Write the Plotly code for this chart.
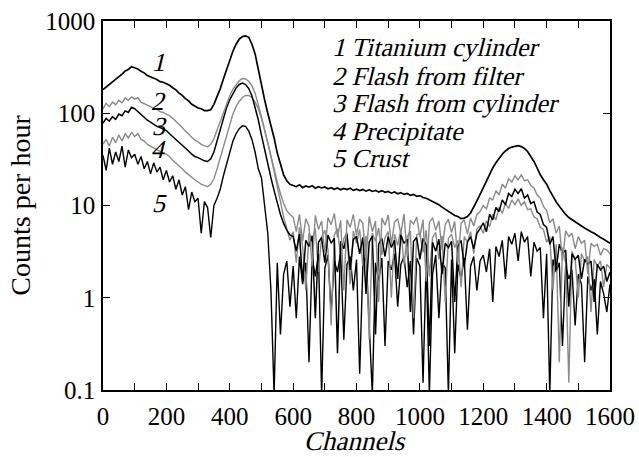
import plotly.graph_objects as go

channels = list(range(0, 1601, 10))

titanium_cylinder = [
    180, 192, 203, 218, 233, 252, 265, 287, 298, 320,
    310, 302, 286, 274, 256, 248, 236, 232, 220, 217,
    209, 201, 189, 179, 165, 156, 144, 136, 125, 120,
    114, 112, 107, 107, 109, 125, 150, 185, 235, 300,
    380, 470, 560, 635, 678, 690, 665, 560, 440, 295,
    200, 140, 100, 74, 54, 37, 27.5, 21.5, 18.5, 17,
    16.5, 16, 16.8, 15.6, 16.3, 15.8, 16.4, 15.4, 16.0, 15.5,
    15.9, 15.2, 15.6, 15.0, 15.5, 14.8, 15.3, 14.9, 15.4, 14.6,
    15.0, 14.5, 14.9, 14.3, 14.8, 14.2, 14.6, 14.0, 14.5, 13.9,
    14.2, 13.6, 14.0, 13.4, 13.8, 13.2, 13.5, 12.9, 13.2, 12.6,
    12.8, 12.2, 12.0, 11.5, 11.2, 10.6, 10.2, 9.6, 9.1, 8.6,
    8.2, 7.8, 7.6, 7.2, 7.3, 7.6, 8.3, 9.5, 11.2, 13.2,
    15.6, 18.5, 22, 25.5, 29, 32.5, 36, 39, 41.5, 43,
    44, 44.5, 43.5, 41.5, 38.5, 34.5, 30, 25.5, 21.5, 19,
    17, 14.5, 12.5, 11, 9.8, 8.8, 8.0, 7.4, 7.0, 6.6,
    6.2, 6.0, 5.7, 5.5, 5.2, 5.0, 4.7, 4.5, 4.3, 4.1,
    3.9,
]

flash_from_filter = [
    112, 128, 118, 132, 124, 138, 130, 146, 138, 150,
    142, 148, 132, 128, 122, 118, 112, 110, 104, 102,
    98, 94, 88, 82, 76, 70, 64, 60, 55, 51,
    49, 46, 44, 43, 46, 53, 66, 82, 102, 128,
    155, 182, 205, 225, 238, 236, 222, 198, 165, 125,
    92, 66, 47, 34, 25, 18, 13.5, 10.5, 8.8, 8.0,
    7.5, 5.2, 8.0, 4.1, 7.2, 6.0, 2.2, 7.8, 5.5, 6.8,
    3.0, 7.4, 6.2, 8.2, 4.5, 6.9, 1.2, 7.0, 5.8, 8.0,
    4.8, 7.1, 6.4, 2.5, 7.6, 5.2, 6.8, 0.9, 7.3, 6.1,
    7.9, 3.8, 6.6, 7.2, 5.0, 8.1, 2.8, 6.9, 6.3, 7.5,
    4.6, 7.0, 1.5, 6.5, 7.4, 5.4, 6.8, 3.3, 6.2, 7.1,
    5.1, 6.7, 2.4, 6.4, 7.0, 4.9, 7.3, 6.0, 8.0, 8.6,
    10, 9.2, 12, 11.5, 14.5, 13, 17, 15.5, 19.5, 18,
    21, 19, 21.5, 18.5, 19, 16.5, 15.5, 13, 12, 9.8,
    8.8, 6.5, 7.2, 5.0, 6.0, 2.5, 5.3, 4.6, 5.0, 3.4,
    4.6, 3.9, 4.2, 1.8, 3.9, 3.6, 3.8, 2.9, 3.4, 3.3,
    3.0,
]

flash_from_cylinder = [
    78, 88, 82, 92, 86, 98, 94, 106, 102, 116,
    112, 104, 96, 90, 84, 80, 76, 72, 70, 67,
    65, 60, 56, 52, 48, 45, 42, 39, 36, 34,
    33, 31.5, 30.5, 30, 32, 38, 50, 66, 88, 115,
    140, 165, 188, 205, 212, 205, 185, 155, 118, 85,
    58, 40, 28, 20, 14.5, 10.5, 8.0, 6.4, 5.4, 4.8,
    4.6, 3.2, 4.9, 1.5, 4.2, 3.6, 4.7, 0.6, 4.0, 4.5,
    2.4, 4.8, 3.9, 4.4, 0.25, 4.1, 3.4, 4.9, 2.0, 4.3,
    4.6, 3.0, 4.5, 1.1, 4.0, 4.7, 0.4, 3.8, 4.4, 2.8,
    4.6, 3.5, 4.2, 1.6, 4.8, 3.9, 4.3, 0.7, 4.1, 4.5,
    2.6, 4.4, 3.7, 0.3, 4.0, 3.2, 4.3, 1.8, 3.9, 3.5,
    4.1, 0.9, 3.6, 4.2, 2.2, 4.0, 4.6, 3.4, 5.0, 5.6,
    6.5, 5.2, 8.0, 7.0, 9.5, 8.6, 11.5, 10.2, 13.5, 12.5,
    15, 13.5, 15.2, 12.0, 13.0, 10.5, 11.0, 8.5, 8.0, 6.2,
    5.8, 3.8, 4.6, 2.0, 3.8, 3.0, 3.3, 0.8, 3.0, 2.6,
    2.9, 1.6, 2.6, 2.3, 2.5, 0.9, 2.3, 2.0, 2.2, 1.5,
    1.9,
]

precipitate = [
    46, 52, 44, 55, 48, 58, 50, 60, 54, 62,
    56, 60, 52, 50, 46, 44, 42, 41, 39, 37,
    36, 34, 31, 29, 27, 25, 23, 21.5, 20, 19,
    18, 17, 16.5, 16, 17, 19.5, 25, 33, 45, 60,
    78, 98, 118, 135, 148, 156, 156, 148, 132, 112,
    88, 66, 48, 34, 24, 16, 11, 7.5, 5.5, 4.2,
    5.2, 2.4, 5.8, 3.6, 1.2, 5.0, 4.2, 5.6, 1.9, 4.6,
    5.4, 3.3, 0.5, 4.8, 5.6, 2.7, 4.4, 5.1, 1.4, 5.3,
    3.9, 5.5, 2.2, 4.7, 0.35, 5.0, 4.1, 5.7, 2.9, 4.5,
    5.2, 1.0, 4.9, 3.7, 5.5, 2.3, 4.6, 5.3, 0.6, 4.8,
    5.0, 3.1, 5.4, 1.7, 4.5, 5.1, 2.6, 4.7, 0.9, 4.4,
    4.9, 3.5, 4.2, 1.3, 4.6, 4.0, 5.2, 3.0, 5.6, 6.0,
    5.0, 6.8, 5.9, 8.0, 7.0, 9.6, 8.2, 10.5, 9.3, 11.5,
    10.2, 11.8, 10.0, 11.0, 9.0, 9.2, 7.5, 7.2, 5.8, 5.5,
    4.0, 4.6, 1.2, 3.8, 0.2, 3.5, 2.4, 0.12, 3.2, 2.6,
    1.0, 3.0, 2.5, 2.8, 0.7, 2.6, 2.2, 2.5, 1.3, 2.3,
    2.1,
]

crust = [
    35, 24, 42, 28, 38, 30, 44, 26, 40, 33,
    36, 28, 34, 25, 30, 22, 29, 23, 26, 19,
    24, 18, 21, 15, 19, 13, 16, 9, 14, 11,
    12, 5, 11, 9.5, 4.5, 10, 12, 15, 21, 28,
    38, 50, 60, 68, 73, 72, 64, 52, 38, 25,
    20, 10, 5, 1.2, 0.09, 2.4, 0.4, 1.8, 2.5, 0.8,
    2.2, 0.6, 2.8, 1.4, 2.4, 0.2, 2.7, 1.7, 3.0, 0.09,
    2.1, 2.9, 0.7, 2.5, 1.9, 3.1, 0.35, 2.3, 2.8, 1.2,
    2.6, 0.15, 2.2, 2.9, 0.5, 0.09, 2.4, 1.5, 2.7, 0.3,
    2.5, 2.0, 3.0, 0.8, 2.3, 2.8, 1.3, 2.5, 0.4, 2.7,
    2.2, 0.12, 2.6, 0.09, 1.8, 2.9, 0.6, 2.4, 2.1, 0.09,
    2.6, 0.25, 2.3, 1.6, 2.7, 0.45, 2.2, 2.8, 1.2, 2.5,
    2.9, 1.9, 3.4, 0.9, 3.6, 2.8, 4.2, 1.6, 4.6, 3.8,
    5.0, 2.5, 5.2, 4.0, 4.6, 1.7, 4.0, 3.2, 3.5, 0.6,
    3.0, 0.09, 2.6, 1.9, 2.4, 0.3, 2.2, 1.6, 2.0, 0.5,
    1.8, 1.4, 0.2, 1.7, 1.2, 1.6, 0.4, 1.5, 1.1, 0.7,
    1.4,
]

series_names = ["1 Titanium cylinder", "2 Flash from filter", "3 Flash from cylinder",
                "4 Precipitate", "5 Crust"]
curve_numbers = ["1", "2", "3", "4", "5"]
x_title = "Channels"
y_title = "Counts per hour"

x_tick_values = list(range(0, 1601, 100))
x_tick_labels = [str(v) if v % 200 == 0 else "" for v in x_tick_values]
y_tick_values = [0.1, 1, 10, 100, 1000]
y_tick_labels = ["0.1", "1", "10", "100", "1000"]

BLACK = "#000000"
GRAY = "#8a8a8a"
FONT = "Liberation Serif"

fig = go.Figure()
draw = [
    (crust, BLACK, 1.4),
    (precipitate, GRAY, 1.4),
    (flash_from_cylinder, BLACK, 1.5),
    (flash_from_filter, GRAY, 1.4),
    (titanium_cylinder, BLACK, 1.7),
]
for vals, col, wid in draw:
    assert len(vals) == len(channels)
    fig.add_trace(go.Scatter(x=channels, y=vals, mode="lines",
                             line=dict(color=col, width=wid), showlegend=False,
                             hoverinfo="skip"))

L, R, T, B = 103, 29, 21, 67
W, H = 639, 457
pw, ph = W - L - R, H - T - B

def px(xp):
    return (xp - L) / pw

def py(yp):
    return 1 - (yp - T) / ph

legend_centers = [48, 76, 103, 131, 158]
for name, yc in zip(series_names, legend_centers):
    fig.add_annotation(x=px(330), y=py(yc), xref="paper", yref="paper",
                       text=name, showarrow=False, xanchor="left", yanchor="middle",
                       font=dict(family=FONT, size=26, color=BLACK))

number_pos = [(158, 63), (157, 101), (158, 126), (157, 149), (158, 204)]
for num, (xp, yp) in zip(curve_numbers, number_pos):
    fig.add_annotation(x=px(xp), y=py(yp), xref="paper", yref="paper",
                       text=num, showarrow=False, xanchor="center", yanchor="middle",
                       font=dict(family=FONT, size=26, color=BLACK))

fig.add_annotation(x=px(354), y=py(441), xref="paper", yref="paper",
                   text=x_title, showarrow=False, xanchor="center", yanchor="middle",
                   font=dict(family=FONT, size=27, color=BLACK))

axis_common = dict(showline=True, linecolor=BLACK, linewidth=1.5, mirror="ticks",
                   ticks="inside", ticklen=7, tickwidth=1.3, tickcolor=BLACK,
                   showgrid=False, zeroline=False, automargin=False,
                   tickfont=dict(family=FONT, size=25, color=BLACK))

fig.update_xaxes(range=[0, 1600], tickmode="array", tickvals=x_tick_values,
                 ticktext=x_tick_labels, ticklabelstandoff=3, **axis_common)
fig.update_yaxes(type="log", range=[-1, 3], tickmode="array", tickvals=y_tick_values,
                 ticktext=y_tick_labels, ticklabelstandoff=1,
                 title=dict(text=y_title, standoff=6,
                            font=dict(family=FONT, size=28, color=BLACK)),
                 **axis_common)

fig.update_layout(width=W, height=H, margin=dict(l=L, r=R, t=T, b=B, pad=0),
                  paper_bgcolor="white", plot_bgcolor="white",
                  font=dict(family=FONT, color=BLACK))

post = """
document.body.style.margin = '0px';
document.body.style.overflow = 'hidden';
document.querySelectorAll('.annotation-text').forEach(function(el){
  el.style.transformBox = 'fill-box';
  el.style.transformOrigin = '0% 78%';
  el.style.transform = 'skewX(-14deg)';
});
"""

fig.write_html("out.html", post_script=post, config={"displayModeBar": False})
